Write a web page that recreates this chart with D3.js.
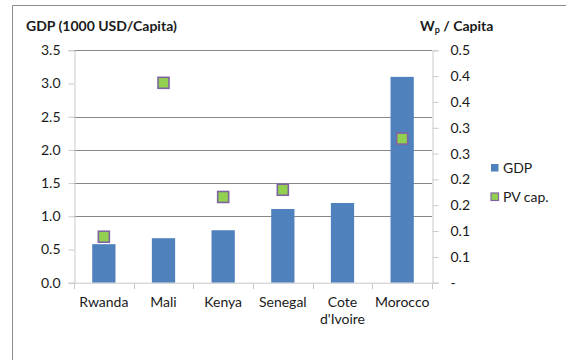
<!DOCTYPE html>
<html>
<head>
<meta charset="utf-8">
<script src="https://cdn.jsdelivr.net/npm/d3@7"></script>
<style>
  html, body { margin: 0; padding: 0; background: #fff; }
  svg { display: block; font-family: Lato, "Open Sans", sans-serif; }
</style>
</head>
<body>
<svg id="chart" width="566" height="360"></svg>
<script>
// Countries on the category axis
const countries = ["Rwanda", "Mali", "Kenya", "Senegal", "Cote\nd'Ivoire", "Morocco"];
// GDP in 1000 USD per capita (bars, left axis)
const gdp = [0.58, 0.67, 0.79, 1.11, 1.20, 3.10];
// PV capacity in Wp per capita (markers, right axis); Cote d'Ivoire has no value
const pvCap = [0.089, 0.387, 0.166, 0.180, null, 0.279];

// Left axis ticks and the horizontal gridlines drawn across the plot
const leftTicks = [0, 0.5, 1.0, 1.5, 2.0, 2.5, 3.0, 3.5];
const gridValues = [1.0, 1.5, 2.0, 2.5, 3.5];
// Right axis ticks with their printed labels (one decimal place)
const rightTicks = [0, 0.05, 0.10, 0.15, 0.20, 0.25, 0.30, 0.35, 0.40, 0.45];
const rightLabels = ["-", "0.1", "0.1", "0.2", "0.2", "0.3", "0.3", "0.4", "0.4", "0.5"];

const svg = d3.select("#chart");
const plot = { left: 74, right: 432, top: 50.3, bottom: 282.7 };
const fontSize = 14;

const x = d3.scaleBand().domain(countries).range([plot.left, plot.right])
  .paddingInner(0.61).paddingOuter(0.305);
const yL = d3.scaleLinear().domain([0, 3.5]).range([plot.bottom, plot.top]);
const yR = d3.scaleLinear().domain([0, 0.45]).range([plot.bottom, plot.top]);

const axisGrey = "#c9c9c9";
const textCol = "#1a1a1a";

// Outer chart frame
svg.append("path")
  .attr("d", "M12.5,370 V5.5 H580")
  .attr("fill", "none").attr("stroke", "#8c8c8c").attr("stroke-width", 1);

// Gridlines
svg.append("g").selectAll("line").data(gridValues).join("line")
  .attr("x1", plot.left).attr("x2", plot.right)
  .attr("y1", d => Math.round(yL(d)) + 0.5).attr("y2", d => Math.round(yL(d)) + 0.5)
  .attr("stroke", "#878787").attr("stroke-width", 1);

// Bars
svg.append("g").selectAll("rect").data(gdp).join("rect")
  .attr("x", (d, i) => x(countries[i]))
  .attr("y", d => yL(d))
  .attr("width", x.bandwidth())
  .attr("height", d => yL(0) - yL(d))
  .attr("fill", "#4f81bd");

// Left axis
const gL = svg.append("g").attr("transform", `translate(${plot.left + 0.5},0)`)
  .call(d3.axisLeft(yL).tickValues(leftTicks).tickFormat(d3.format(".1f")).tickSize(6).tickPadding(8));
// Right axis
const gR = svg.append("g").attr("transform", `translate(${plot.right + 0.5},0)`)
  .call(d3.axisRight(yR).tickValues(rightTicks).tickFormat((d, i) => rightLabels[i]).tickSize(6).tickPadding(12));
// Category axis with ticks at band boundaries
const gX = svg.append("g").attr("transform", `translate(0,${plot.bottom + 0.5})`);
gX.append("line").attr("x1", plot.left).attr("x2", plot.right).attr("stroke", axisGrey);
const bounds = d3.range(countries.length + 1).map(i => plot.left + i * x.step());
gX.selectAll("line.tk").data(bounds).join("line").attr("class", "tk")
  .attr("x1", d => Math.round(d) + 0.5).attr("x2", d => Math.round(d) + 0.5)
  .attr("y1", 0).attr("y2", 6).attr("stroke", axisGrey);
const catLabels = gX.selectAll("text").data(countries).join("text")
  .attr("x", d => x(d) + x.bandwidth() / 2)
  .attr("y", 24)
  .attr("text-anchor", "middle")
  .attr("font-size", fontSize).attr("fill", textCol);
catLabels.each(function(d) {
  const lines = d.split("\n");
  d3.select(this).selectAll("tspan").data(lines).join("tspan")
    .attr("x", x(d) + x.bandwidth() / 2)
    .attr("dy", (l, j) => j === 0 ? 0 : 17)
    .text(l => l);
});

[gL, gR].forEach(g => {
  g.select(".domain").attr("stroke", axisGrey);
  g.selectAll(".tick line").attr("stroke", axisGrey);
  g.selectAll(".tick text").attr("font-size", fontSize).attr("fill", textCol)
    .attr("font-family", "Lato, 'Open Sans', sans-serif");
});

// PV markers
const pvPts = pvCap.map((v, i) => ({ v, c: countries[i] })).filter(d => d.v !== null);
svg.append("g").selectAll("rect").data(pvPts).join("rect")
  .attr("x", d => x(d.c) + x.bandwidth() / 2 - 5.5)
  .attr("y", d => yR(d.v) - 5.5)
  .attr("width", 11).attr("height", 11)
  .attr("fill", "#92d050").attr("stroke", "#8064a2").attr("stroke-width", 1.6);

// Axis titles
svg.append("text").attr("x", 26).attr("y", 31)
  .attr("font-size", fontSize).attr("font-weight", "bold").attr("fill", textCol)
  .text("GDP (1000 USD/Capita)");
const rt = svg.append("text").attr("x", 420).attr("y", 31)
  .attr("font-size", fontSize).attr("font-weight", "bold").attr("fill", textCol);
rt.append("tspan").text("W");
rt.append("tspan").attr("font-size", 9).attr("dy", 2).text("p");
rt.append("tspan").attr("dy", -2).text(" / Capita");

// Legend
const legend = [
  { name: "GDP", fill: "#4f81bd", stroke: "none" },
  { name: "PV cap.", fill: "#92d050", stroke: "#8064a2" }
];
const lg = svg.append("g").selectAll("g").data(legend).join("g")
  .attr("transform", (d, i) => `translate(491,${164 + i * 29})`);
lg.append("rect").attr("width", 7.5).attr("height", 7.5)
  .attr("fill", d => d.fill).attr("stroke", d => d.stroke).attr("stroke-width", 1.2);
lg.append("text").attr("x", 12).attr("y", 8.5)
  .attr("font-size", fontSize).attr("fill", textCol).text(d => d.name);
</script>
</body>
</html>
